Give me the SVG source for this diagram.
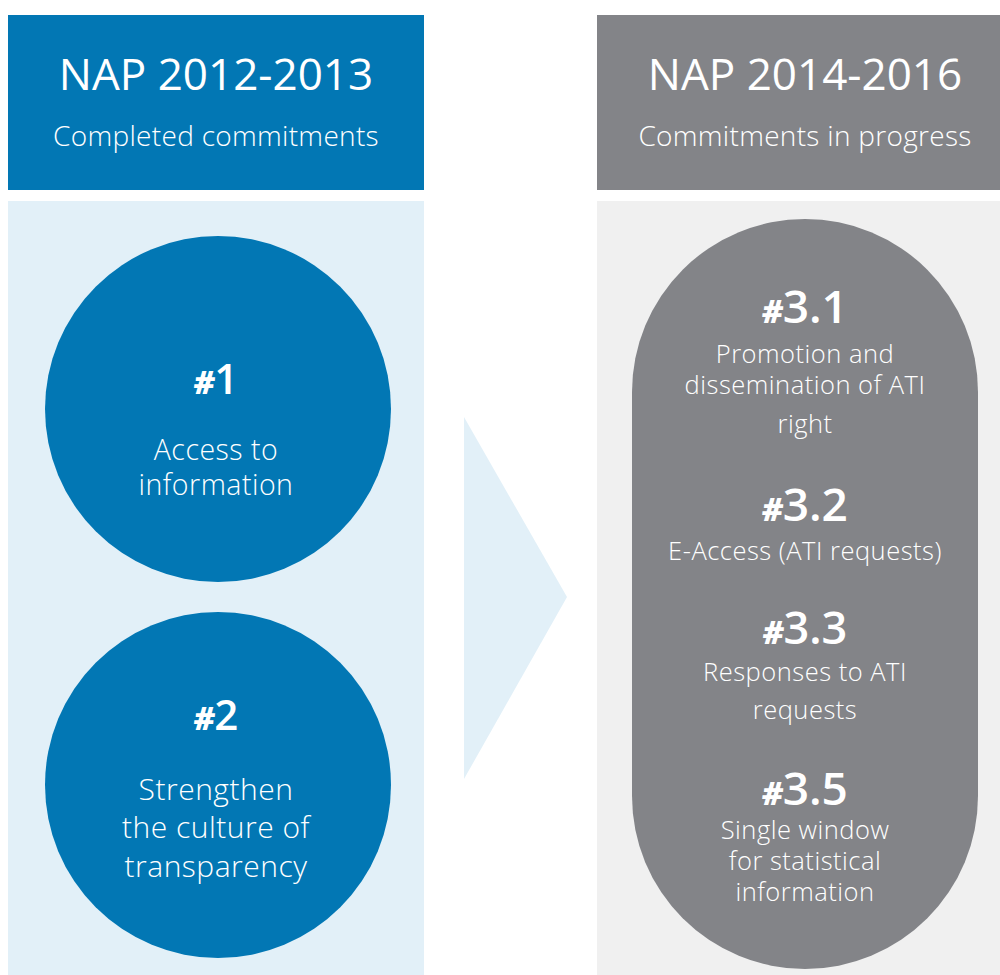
<svg xmlns="http://www.w3.org/2000/svg" width="1000" height="975" viewBox="0 0 1000 975">
<style>
text{font-family:"Open Sans","Noto Sans","DejaVu Sans",sans-serif;fill:#fff;text-anchor:middle;font-weight:300}
.t{font-size:44px;font-weight:400}
.s{font-size:28px;letter-spacing:0.3px}
.n{font-size:42px;font-weight:600}
.h{font-size:32px;font-style:italic;font-weight:800}
.b{font-size:28.5px;letter-spacing:0.5px}
.p{font-size:25.5px;letter-spacing:0.5px}
</style>
<rect width="1000" height="975" fill="#fff"/>
<g id="header-left">
<rect x="8" y="15" width="416" height="175" fill="#0277B4"/>
<text class="t" x="216" y="90">NAP 2012-2013</text>
<text class="s" x="216" y="146">Completed commitments</text>
</g>
<g id="header-right">
<rect x="597" y="15" width="403" height="175" fill="#838488"/>
<text class="t" x="805" y="90">NAP 2014-2016</text>
<text class="s" x="805" y="146">Commitments in progress</text>
</g>
<g id="panel-left"><rect x="8" y="201" width="416" height="774" fill="#E2F0F8"/></g>
<g id="panel-right"><rect x="597" y="201" width="403" height="774" fill="#F0F0F0"/></g>
<g id="connectors">
<polygon points="464,417 567,597 464,779" fill="#E2F0F8"/>
</g>
<g id="c1">
<circle cx="218" cy="409" r="173" fill="#0277B4"/>
<text class="n" x="216" y="394"><tspan class="h">#</tspan>1</text>
<text class="b" x="216" y="460">Access to</text>
<text class="b" x="216" y="495">information</text>
</g>
<g id="c2">
<circle cx="218" cy="785" r="173" fill="#0277B4"/>
<text class="n" x="216" y="730"><tspan class="h">#</tspan>2</text>
<text class="b" x="216" y="800" style="font-size:30px">Strengthen</text>
<text class="b" x="216" y="838" style="font-size:30px">the culture of</text>
<text class="b" x="216" y="877" style="font-size:30px">transparency</text>
</g>
<g id="pill">
<rect x="632" y="219" width="346" height="750" rx="173" ry="173" fill="#838488"/>
</g>
<g id="c31">
<text class="n" x="805" y="323" style="font-size:46px"><tspan class="h">#</tspan>3.1</text>
<text class="p" x="805" y="363">Promotion and</text>
<text class="p" x="805" y="394">dissemination of ATI</text>
<text class="p" x="805" y="433">right</text>
</g>
<g id="c32">
<text class="n" x="805" y="521" style="font-size:46px"><tspan class="h">#</tspan>3.2</text>
<text class="p" x="805" y="560">E-Access (ATI requests)</text>
</g>
<g id="c33">
<text class="n" x="805" y="644" style="font-size:45px"><tspan class="h">#</tspan>3.3</text>
<text class="p" x="805" y="681">Responses to ATI</text>
<text class="p" x="805" y="719">requests</text>
</g>
<g id="c35">
<text class="n" x="805" y="805" style="font-size:46px"><tspan class="h">#</tspan>3.5</text>
<text class="p" x="805" y="839">Single window</text>
<text class="p" x="805" y="870">for statistical</text>
<text class="p" x="805" y="901">information</text>
</g>
</svg>
